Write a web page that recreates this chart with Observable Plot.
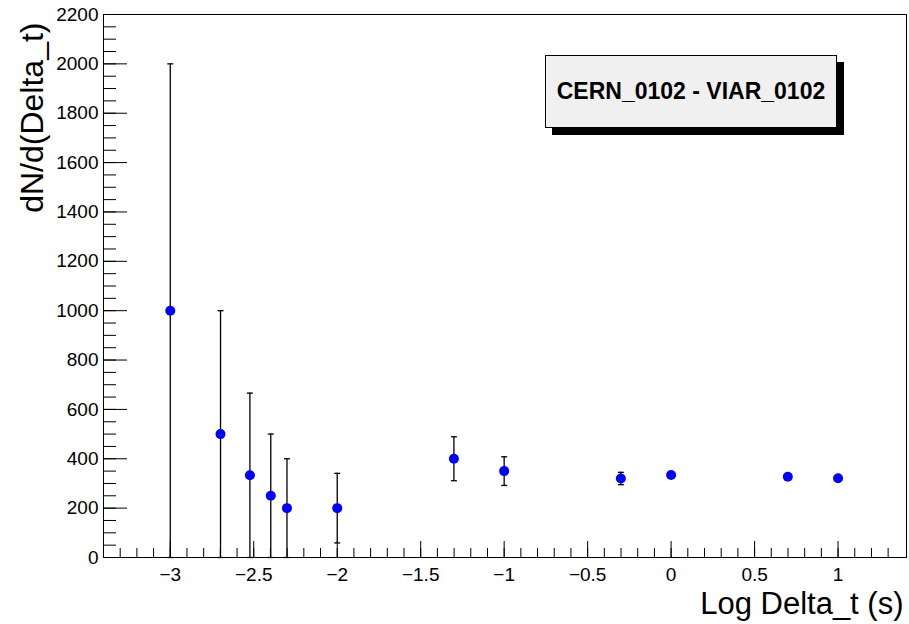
<!DOCTYPE html>
<html><head><meta charset="utf-8">
<script src="https://cdn.jsdelivr.net/npm/d3@7"></script>
<script src="https://cdn.jsdelivr.net/npm/@observablehq/plot@0.6"></script>
<style>
body{margin:0;background:#fff;}
#wrap{position:relative;width:909px;height:624px;}
#box{position:absolute;left:545px;top:55px;width:290px;height:71px;background:#f0f0f0;border:1px solid #000;box-shadow:7px 7px 0 #000;font:bold 23px "Liberation Sans",Arial,sans-serif;display:flex;align-items:center;justify-content:center;color:#000;}
</style></head>
<body><div id="wrap"></div>
<script>
// data: log10(Delta_t) bin centres, rate values, symmetric errors
const logDt   = [-3, -2.699, -2.523, -2.398, -2.301, -2, -1.301, -1, -0.301, 0, 0.699, 1];
const rate    = [1000, 500, 333, 250, 200, 200, 400, 350, 320, 334, 327, 321];
const rateErr = [1000, 500, 333, 250, 200, 141, 89, 58, 25, 12, 6, 4];

const yMajor = [0, 200, 400, 600, 800, 1000, 1200, 1400, 1600, 1800, 2000, 2200];
const yMinor = d3.range(0, 2201, 50);
const xMajor = [-3, -2.5, -2, -1.5, -1, -0.5, 0, 0.5, 1];
const xTickLabels = ["\u22123", "\u22122.5", "\u22122", "\u22121.5", "\u22121", "\u22120.5", "0", "0.5", "1"];
const xMinor = d3.range(-33, 14, 1).map(d => d / 10);

const titleText = "CERN_0102 - VIAR_0102";
const xTitle = "Log Delta_t (s)";
const yTitle = "dN/d(Delta_t)";

const data = logDt.map((x, i) => ({x, y: rate[i], lo: Math.max(0, rate[i] - rateErr[i]), hi: rate[i] + rateErr[i]}));
const xLabelMap = new Map(xMajor.map((v, i) => [v, xTickLabels[i]]));
const capSym = {draw(ctx) { ctx.moveTo(-3, 0); ctx.lineTo(3, 0); }};
const font = "'Liberation Sans', Arial, Helvetica, sans-serif";

const chart = Plot.plot({
  width: 909, height: 624,
  marginLeft: 103, marginRight: 3, marginTop: 14, marginBottom: 67,
  style: {fontFamily: font, color: "#000", background: "#fff", overflow: "visible"},
  x: {domain: [-3.4, 1.41]},
  y: {domain: [0, 2200]},
  marks: [
    Plot.axisY({ticks: yMinor, tickSize: -13, fill: "none", label: null, stroke: "#000"}),
    Plot.axisY({ticks: yMajor, tickSize: -24, fill: "none", label: null, stroke: "#000"}),
    Plot.axisY({ticks: yMajor, tickSize: 0, tickPadding: 5, fontSize: 19, label: null, fill: "#000", tickFormat: d => String(d)}),
    Plot.axisX({ticks: xMinor, tickSize: -9, fill: "none", label: null, stroke: "#000"}),
    Plot.axisX({ticks: xMajor, tickSize: -16, fill: "none", label: null, stroke: "#000"}),
    Plot.axisX({ticks: xMajor, tickSize: 0, tickPadding: 10, fontSize: 19, label: null, fill: "#000", tickFormat: d => xLabelMap.get(d)}),
    Plot.frame({stroke: "#000"}),
    Plot.ruleX(data, {x: "x", y1: "lo", y2: "hi", stroke: "#000", strokeWidth: 1.3}),
    Plot.dot(data, {x: "x", y: "hi", symbol: capSym, stroke: "#000", strokeWidth: 1.3, fill: "none"}),
    Plot.dot(data, {x: "x", y: "lo", symbol: capSym, stroke: "#000", strokeWidth: 1.3, fill: "none"}),
    Plot.dot(data, {x: "x", y: "y", r: 5, fill: "#0000ff", stroke: "none"}),
    Plot.text([xTitle], {frameAnchor: "bottom-right", textAnchor: "end", lineAnchor: "bottom", dx: -3, dy: 56, fontSize: 31, fill: "#000"}),
    Plot.text([yTitle], {frameAnchor: "top-left", rotate: -90, textAnchor: "end", lineAnchor: "bottom", dx: -61, dy: 8, fontSize: 32, fill: "#000"})
  ]
});

const wrap = document.getElementById("wrap");
wrap.appendChild(chart);
const box = document.createElement("div");
box.id = "box";
box.textContent = titleText;
wrap.appendChild(box);
</script>
</body></html>
